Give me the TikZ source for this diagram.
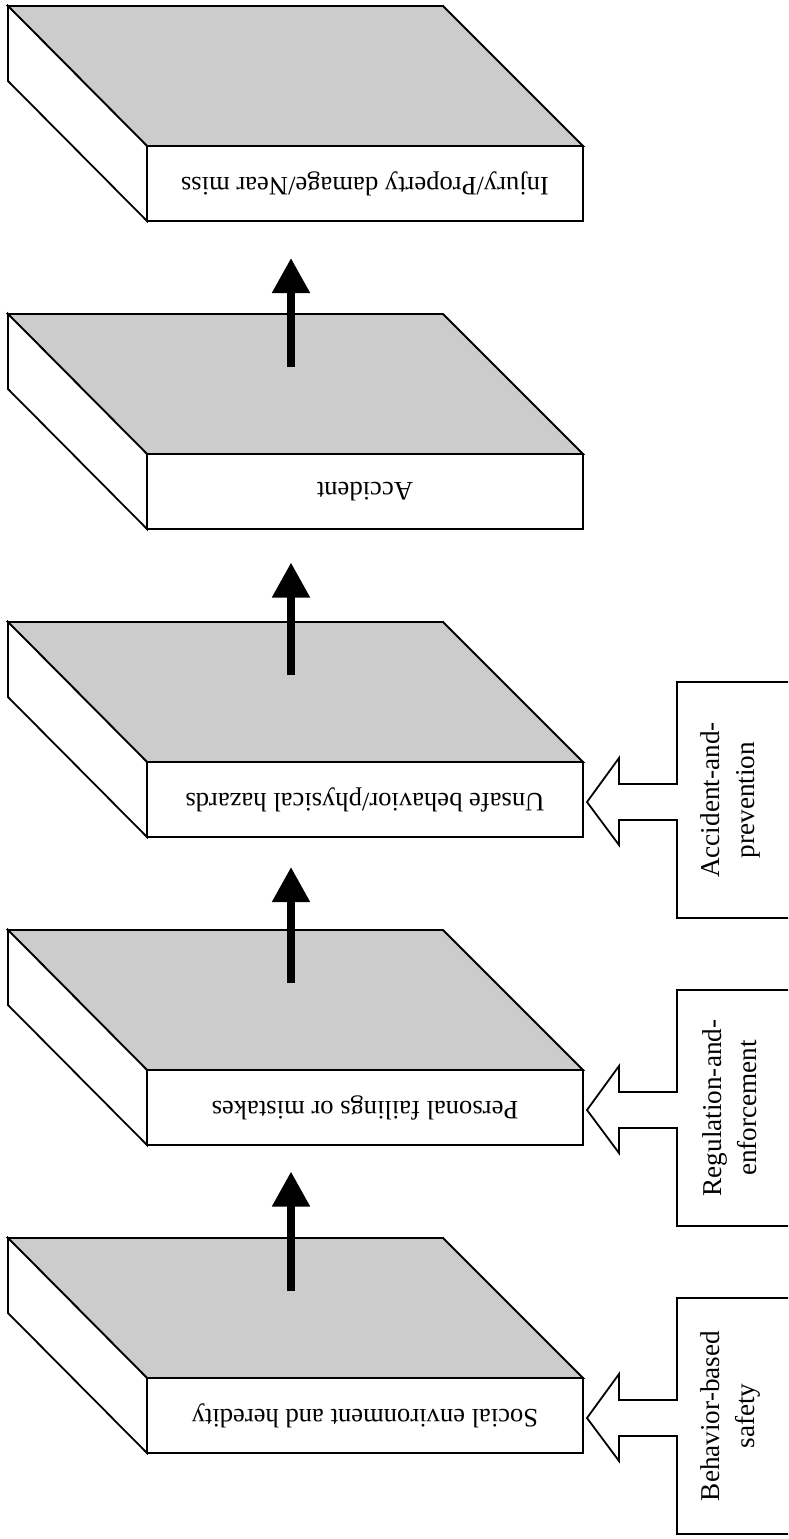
\documentclass[tikz,border=0pt]{standalone}
\usepackage{fontspec}
\setmainfont{Liberation Serif}
\usetikzlibrary{arrows.meta}
\definecolor{topgray}{HTML}{CCCCCC}
\tikzset{
  frontface/.style={draw, line width=1.8pt, fill=white, minimum width=436pt, minimum height=75pt,
    inner sep=0pt, rotate=180, font=\fontsize{26.6}{30}\selectfont},
  topface/.style={draw, line width=1.8pt, fill=topgray, line join=miter},
  sideface/.style={draw, line width=1.8pt, fill=white, line join=miter},
  flowarrow/.style={line width=8pt, -{Triangle[width=36pt,length=35pt]}},
  blockarrow/.style={draw, line width=1.8pt, fill=white, line join=miter},
  labeltext/.style={rotate=90, align=center, inner sep=0pt, font=\fontsize{27.2}{35}\selectfont}
}
\begin{document}
\begin{tikzpicture}[x=1pt,y=-1pt]
\clip (0,0) rectangle (788,1539);
\fill[white] (0,0) rectangle (788,1539);
% boxes
\foreach \i/\txt in {0/{Injury/Property damage/Near miss},1/{Accident},2/{Unsafe behavior/physical hazards},3/{Personal failings or mistakes},4/{Social environment and heredity}}{
  \pgfmathsetmacro{\T}{6+308*\i}
  \path[topface] (8,\T) -- (443,\T) -- (583,\T+140) -- (147,\T+140) -- cycle;
  \path[sideface] (8,\T) -- (147,\T+140) -- (147,\T+215) -- (8,\T+75) -- cycle;
  \node[frontface] (box\i) at (365,\T+177.5) {\txt};
  \coordinate (tail\i) at (291,\T+53);
  \coordinate (tip\i) at (291,\T+252-3.5*\i);
}
% flow arrows
\foreach \i [evaluate=\i as \j using int(\i+1)] in {0,1,2,3}{
  \draw[flowarrow] (tail\j) -- (tip\i);
}
% label boxes with block arrows
\foreach \i/\txt in {2/{Accident-and-\\prevention},3/{Regulation-and-\\enforcement},4/{Behavior-based\\safety}}{
  \pgfmathsetmacro{\L}{66+308*\i}
  \path[blockarrow] (800,\L) -- (677,\L) -- (677,\L+102) -- (619,\L+102) -- (619,\L+76)
     -- (587,\L+120) -- (619,\L+163) -- (619,\L+138) -- (677,\L+138) -- (677,\L+236)
     -- (800,\L+236) -- cycle;
  \node[labeltext] (lab\i) at (730,\L+118) {\txt};
}
\end{tikzpicture}
\end{document}
